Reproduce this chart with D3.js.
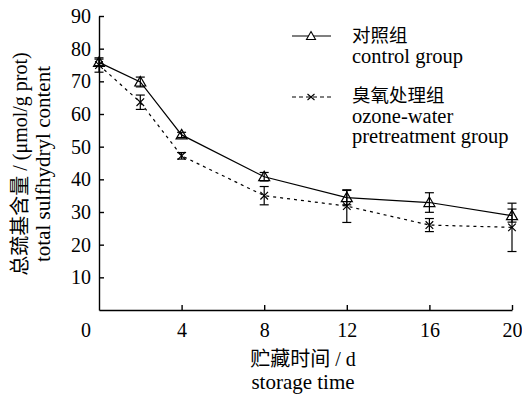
<!DOCTYPE html>
<html><head><meta charset="utf-8">
<script src="https://cdn.jsdelivr.net/npm/d3@7"></script>
<style>
html,body{margin:0;padding:0;background:#fff;}
</style></head>
<body><svg id="c" width="522" height="398"></svg>
<script>
const days = [0, 2, 4, 8, 12, 16, 20];
const controlValues = [75.8, 69.8, 53.6, 40.8, 34.4, 32.9, 28.9];
const controlErrors = [1.0, 1.5, 0.8, 1.3, 2.2, 3.0, 2.0];
const ozoneValues = [75.0, 63.6, 47.2, 35.0, 31.8, 26.0, 25.3];
const ozoneErrors = [2.2, 2.2, 1.0, 2.8, 5.0, 2.0, 7.4];
const xTicks = [4, 8, 12, 16, 20];
const yTicks = [10, 20, 30, 40, 50, 60, 70, 80, 90];
const seriesNames = [["对照组", "control group"], ["臭氧处理组", "ozone-water", "pretreatment group"]];
const xTitle = ["贮藏时间 / d", "storage time"];
const yTitle = ["总巯基含量 / (μmol/g prot)", "total sulfhydryl content"];

const FONT = "Liberation Serif, Noto Sans CJK SC";
const svg = d3.select("#c");
const x = d3.scaleLinear().domain([0, 20]).range([99, 512]);
const y = d3.scaleLinear().domain([0, 90]).range([310, 16]);

const xAxis = svg.append("g").attr("transform", "translate(0,310)")
  .call(d3.axisBottom(x).tickValues(xTicks).tickSizeInner(-5).tickSizeOuter(0).tickPadding(13));
const yAxis = svg.append("g").attr("transform", "translate(99,0)")
  .call(d3.axisLeft(y).tickValues(yTicks).tickSizeInner(-5).tickSizeOuter(0).tickPadding(8));
[xAxis, yAxis].forEach(a => {
  a.attr("font-family", FONT);
  a.selectAll("path.domain").attr("stroke", "#000").attr("stroke-width", 1.4);
  a.selectAll("line").attr("stroke", "#000").attr("stroke-width", 1.4);
  a.selectAll("text").attr("font-size", 20).attr("fill", "#000");
});
function txt(xp, yp, s, size, anchor, tr) {
  const t = svg.append("text").attr("font-size", size).attr("font-family", FONT)
    .attr("fill", "#000").attr("text-anchor", anchor || "start").text(s);
  if (tr) t.attr("transform", tr); else t.attr("x", xp).attr("y", yp);
  return t;
}
txt(86, 337, "0", 20, "middle");

txt(303, 366, xTitle[0], 20, "middle");
txt(303, 389, xTitle[1], 21, "middle");
txt(0, 0, yTitle[0], 20, "middle", "translate(27,164) rotate(-90)");
txt(0, 0, yTitle[1], 21, "middle", "translate(50,164) rotate(-90)");

const line = d3.line().x(d => x(d[0])).y(d => y(d[1]));
const cData = days.map((d, i) => [d, controlValues[i], controlErrors[i]]);
const oData = days.map((d, i) => [d, ozoneValues[i], ozoneErrors[i]]);

svg.append("path").datum(oData).attr("d", line).attr("fill", "none").attr("stroke", "#000")
  .attr("stroke-width", 1.2).attr("stroke-dasharray", "3,4");
svg.append("path").datum(cData).attr("d", line).attr("fill", "none").attr("stroke", "#000")
  .attr("stroke-width", 1.2);

function errBars(data) {
  const g = svg.append("g").attr("stroke", "#000").attr("stroke-width", 1.2);
  data.forEach(d => {
    const cx = x(d[0]), t = y(d[1] + d[2]), b = y(d[1] - d[2]);
    g.append("line").attr("x1", cx).attr("x2", cx).attr("y1", t).attr("y2", b);
    g.append("line").attr("x1", cx - 4.5).attr("x2", cx + 4.5).attr("y1", t).attr("y2", t);
    g.append("line").attr("x1", cx - 4.5).attr("x2", cx + 4.5).attr("y1", b).attr("y2", b);
  });
}
errBars(oData);
errBars(cData);

const triPath = "M0,-5.5L5.5,4L-5.5,4Z";
const xPath = "M-3.8,-3.8L3.8,3.8M-3.8,3.8L3.8,-3.8";
svg.append("g").selectAll("path").data(oData).join("path")
  .attr("transform", d => `translate(${x(d[0])},${y(d[1])})`)
  .attr("d", xPath).attr("stroke", "#000").attr("stroke-width", 1.2).attr("fill", "none");
svg.append("g").selectAll("path").data(cData).join("path")
  .attr("transform", d => `translate(${x(d[0])},${y(d[1])})`)
  .attr("d", triPath).attr("stroke", "#000").attr("stroke-width", 1.2).attr("fill", "none");

const lg = svg.append("g");
lg.append("line").attr("x1", 292).attr("x2", 331).attr("y1", 36).attr("y2", 36).attr("stroke", "#000").attr("stroke-width", 1.2);
lg.append("path").attr("transform", "translate(311,36)").attr("d", "M0,-4.5L4.5,3.5L-4.5,3.5Z")
  .attr("stroke", "#000").attr("stroke-width", 1.1).attr("fill", "#fff");
lg.append("line").attr("x1", 292).attr("x2", 331).attr("y1", 97).attr("y2", 97).attr("stroke", "#000")
  .attr("stroke-width", 1.2).attr("stroke-dasharray", "4,3");
lg.append("path").attr("transform", "translate(311,97)").attr("d", "M-3.5,-3L3.5,3M-3.5,3L3.5,-3")
  .attr("stroke", "#000").attr("stroke-width", 1.1).attr("fill", "none");
const ly = [[42, 63], [102, 123, 143]];
seriesNames.forEach((names, i) => names.forEach((n, j) => {
  txt(352, ly[i][j], n, j === 0 ? 18.5 : 20.5, "start");
}));
</script></body></html>
